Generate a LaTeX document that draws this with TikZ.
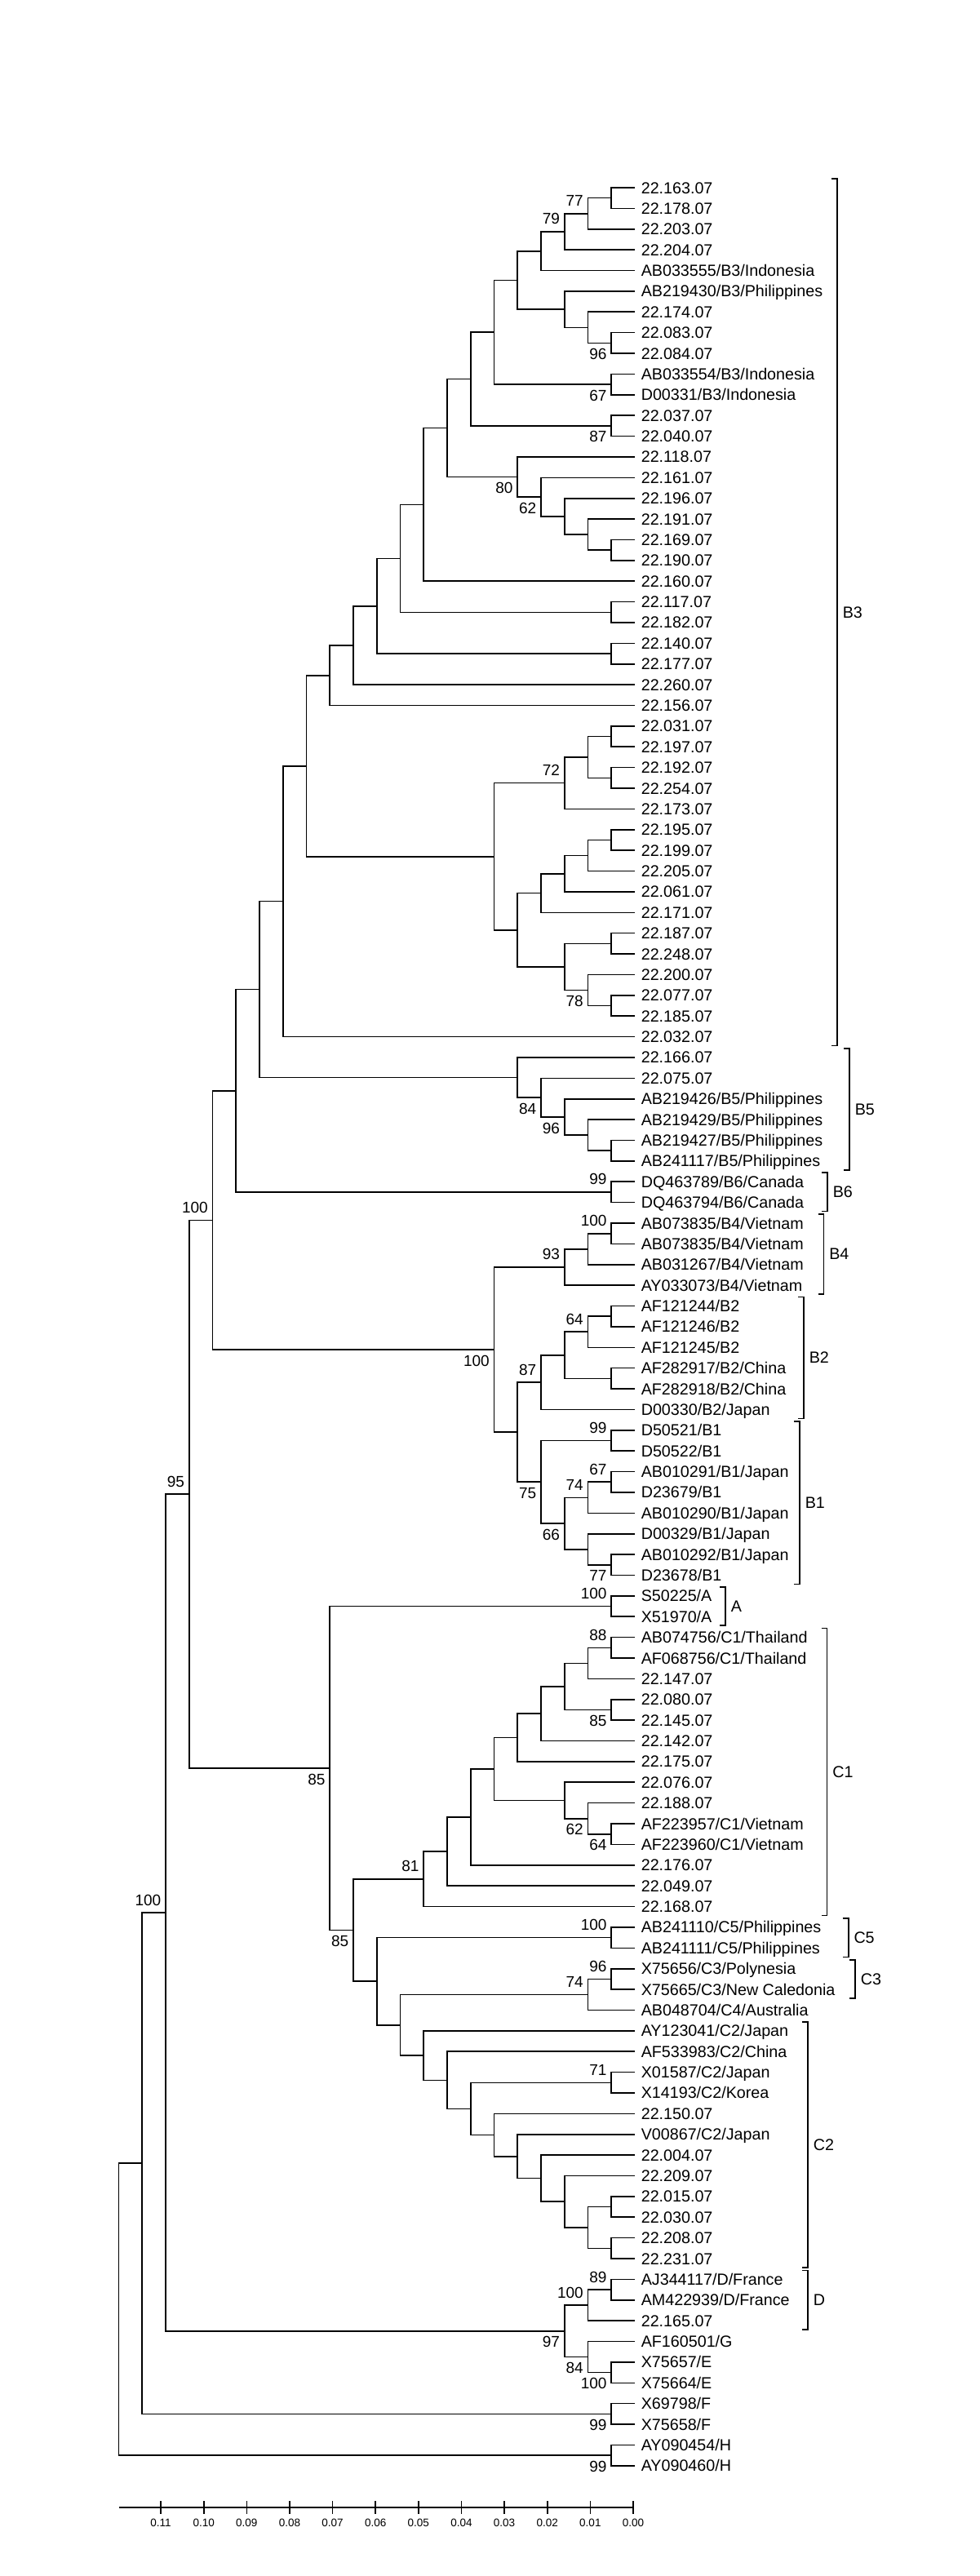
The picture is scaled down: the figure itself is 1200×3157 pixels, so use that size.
\documentclass[tikz,border=0pt]{standalone}
\usepackage{fontspec}
\setmainfont{Liberation Sans}
\usetikzlibrary{calc}

\tikzset{
  leaf/.style={anchor=west, inner xsep=7pt, inner ysep=0pt, text height=14pt, text depth=0pt,
    font=\fontsize{19.7pt}{22pt}\selectfont},
  bsup/.style={anchor=south east, inner sep=0pt, xshift=-5pt, yshift=8pt, font=\fontsize{19pt}{21pt}\selectfont},
  bsdn/.style={anchor=north east, inner sep=0pt, xshift=-5pt, yshift=-6pt, font=\fontsize{19pt}{21pt}\selectfont},
  grplab/.style={anchor=west, inner sep=0pt, xshift=6pt, font=\fontsize{19.7pt}{22pt}\selectfont},
  ticklab/.style={inner sep=0pt, font=\fontsize{13.5pt}{15pt}\selectfont}
}

\newcommand\clade[4]{%
  \path let \p1=(#3), \p2=(#4) in coordinate (#1) at ({778pt-28.75pt*#2}, {0.5*\y1+0.5*\y2});
  \draw (#3) -| (#1) |- (#4);
}
\newcommand\bup[2]{\node[bsup] (b#1) at (#1) {#2};}
\newcommand\bdn[2]{\node[bsdn] (b#1) at (#1) {#2};}
\newcommand\grp[4]{%
  \draw ([xshift=#3pt-7pt,yshift=11pt]l#1.west) -| ([xshift=#3pt,yshift=-11pt]l#2.west) -- ++(-7,0);
  \node[grplab] (gl#4) at ($([xshift=#3pt]l#1.west)!0.5!([xshift=#3pt]l#2.west)$) {#4};
}

\begin{document}
\begin{tikzpicture}[x=1pt, y=-1pt, line width=1.6pt]
  \path[fill=white, use as bounding box] (0,0) rectangle (1200,3157);

  \foreach \lab [count=\i] in {22.163.07, 22.178.07, 22.203.07, 22.204.07, AB033555/B3/Indonesia,
      AB219430/B3/Philippines, 22.174.07, 22.083.07, 22.084.07, AB033554/B3/Indonesia, D00331/B3/Indonesia,
      22.037.07, 22.040.07, 22.118.07, 22.161.07, 22.196.07, 22.191.07, 22.169.07, 22.190.07, 22.160.07,
      22.117.07, 22.182.07, 22.140.07, 22.177.07, 22.260.07, 22.156.07, 22.031.07, 22.197.07, 22.192.07,
      22.254.07, 22.173.07, 22.195.07, 22.199.07, 22.205.07, 22.061.07, 22.171.07, 22.187.07, 22.248.07,
      22.200.07, 22.077.07, 22.185.07, 22.032.07, 22.166.07, 22.075.07, AB219426/B5/Philippines,
      AB219429/B5/Philippines, AB219427/B5/Philippines, AB241117/B5/Philippines, DQ463789/B6/Canada,
      DQ463794/B6/Canada, AB073835/B4/Vietnam, AB073835/B4/Vietnam, AB031267/B4/Vietnam, AY033073/B4/Vietnam,
      AF121244/B2, AF121246/B2, AF121245/B2, AF282917/B2/China, AF282918/B2/China, D00330/B2/Japan,
      D50521/B1, D50522/B1, AB010291/B1/Japan, D23679/B1, AB010290/B1/Japan, D00329/B1/Japan,
      AB010292/B1/Japan, D23678/B1, S50225/A, X51970/A, AB074756/C1/Thailand, AF068756/C1/Thailand,
      22.147.07, 22.080.07, 22.145.07, 22.142.07, 22.175.07, 22.076.07, 22.188.07, AF223957/C1/Vietnam,
      AF223960/C1/Vietnam, 22.176.07, 22.049.07, 22.168.07, AB241110/C5/Philippines, AB241111/C5/Philippines,
      X75656/C3/Polynesia, X75665/C3/New Caledonia, AB048704/C4/Australia, AY123041/C2/Japan,
      AF533983/C2/China, X01587/C2/Japan, X14193/C2/Korea, 22.150.07, V00867/C2/Japan, 22.004.07,
      22.209.07, 22.015.07, 22.030.07, 22.208.07, 22.231.07, AJ344117/D/France, AM422939/D/France,
      22.165.07, AF160501/G, X75657/E, X75664/E, X69798/F, X75658/F, AY090454/H, AY090460/H}
    \node[leaf] (l\i) at (778, {230+(\i-1)*25.38}) {\lab};

  \clade{n1}{1}{l1}{l2}
  \clade{n2}{2}{n1}{l3}
  \clade{n3}{3}{n2}{l4}
  \clade{n4}{4}{n3}{l5}
  \clade{n5a}{1}{l8}{l9}
  \clade{n5b}{2}{l7}{n5a}
  \clade{n5c}{3}{l6}{n5b}
  \clade{n5}{5}{n4}{n5c}
  \clade{n6a}{1}{l10}{l11}
  \clade{n6}{6}{n5}{n6a}
  \clade{n7a}{1}{l12}{l13}
  \clade{n7}{7}{n6}{n7a}
  \clade{m1}{1}{l18}{l19}
  \clade{m2}{2}{l17}{m1}
  \clade{m3}{3}{l16}{m2}
  \clade{m4}{4}{l15}{m3}
  \clade{m5}{5}{l14}{m4}
  \clade{n8}{8}{n7}{m5}
  \clade{n9}{9}{n8}{l20}
  \clade{n10a}{1}{l21}{l22}
  \clade{n10}{10}{n9}{n10a}
  \clade{n11a}{1}{l23}{l24}
  \clade{n11}{11}{n10}{n11a}
  \clade{n12}{12}{n11}{l25}
  \clade{n13}{13}{n12}{l26}
  \clade{q1}{1}{l27}{l28}
  \clade{q2}{1}{l29}{l30}
  \clade{q3}{2}{q1}{q2}
  \clade{q4}{3}{q3}{l31}
  \clade{r1}{1}{l32}{l33}
  \clade{r2}{2}{r1}{l34}
  \clade{r3}{3}{r2}{l35}
  \clade{r4}{4}{r3}{l36}
  \clade{s1}{1}{l37}{l38}
  \clade{s2}{1}{l40}{l41}
  \clade{s3}{2}{l39}{s2}
  \clade{s4}{3}{s1}{s3}
  \clade{r5}{5}{r4}{s4}
  \clade{q5}{6}{q4}{r5}
  \clade{n14}{14}{n13}{q5}
  \clade{n15}{15}{n14}{l42}
  \clade{p1}{1}{l47}{l48}
  \clade{p2}{2}{l46}{p1}
  \clade{p3}{3}{l45}{p2}
  \clade{p4}{4}{l44}{p3}
  \clade{p5}{5}{l43}{p4}
  \clade{n16}{16}{n15}{p5}
  \clade{b6}{1}{l49}{l50}
  \clade{n17}{17}{n16}{b6}
  \clade{f1}{1}{l51}{l52}
  \clade{f2}{2}{f1}{l53}
  \clade{f3}{3}{f2}{l54}
  \clade{g1}{1}{l55}{l56}
  \clade{g2}{2}{g1}{l57}
  \clade{g3a}{1}{l58}{l59}
  \clade{g3}{3}{g2}{g3a}
  \clade{g4}{4}{g3}{l60}
  \clade{h1}{1}{l61}{l62}
  \clade{h2}{1}{l63}{l64}
  \clade{h3}{2}{h2}{l65}
  \clade{h4}{1}{l67}{l68}
  \clade{h5}{2}{l66}{h4}
  \clade{h6}{3}{h3}{h5}
  \clade{h7}{4}{h1}{h6}
  \clade{g5}{5}{g4}{h7}
  \clade{f4}{6}{f3}{g5}
  \clade{n18}{18}{n17}{f4}
  \clade{a1}{1}{l69}{l70}
  \clade{c1a}{1}{l71}{l72}
  \clade{c1b}{2}{c1a}{l73}
  \clade{c1c}{1}{l74}{l75}
  \clade{c1d}{3}{c1b}{c1c}
  \clade{c1e}{4}{c1d}{l76}
  \clade{c1f}{5}{c1e}{l77}
  \clade{c1g}{1}{l80}{l81}
  \clade{c1h}{2}{l79}{c1g}
  \clade{c1i}{3}{l78}{c1h}
  \clade{c1j}{6}{c1f}{c1i}
  \clade{c1k}{7}{c1j}{l82}
  \clade{c1l}{8}{c1k}{l83}
  \clade{c1m}{9}{c1l}{l84}
  \clade{c5}{1}{l85}{l86}
  \clade{c3}{1}{l87}{l88}
  \clade{c34}{2}{c3}{l89}
  \clade{c2a}{1}{l92}{l93}
  \clade{c2b}{1}{l98}{l99}
  \clade{c2c}{1}{l100}{l101}
  \clade{c2d}{2}{c2b}{c2c}
  \clade{c2e}{3}{l97}{c2d}
  \clade{c2f}{4}{l96}{c2e}
  \clade{c2g}{5}{l95}{c2f}
  \clade{c2h}{6}{l94}{c2g}
  \clade{c2i}{7}{c2a}{c2h}
  \clade{c2j}{8}{l91}{c2i}
  \clade{c2k}{9}{l90}{c2j}
  \clade{c10}{10}{c34}{c2k}
  \clade{c11}{11}{c5}{c10}
  \clade{c12}{12}{c1m}{c11}
  \clade{ac}{13}{a1}{c12}
  \clade{n19}{19}{n18}{ac}
  \clade{d1}{1}{l102}{l103}
  \clade{d2}{2}{d1}{l104}
  \clade{e1}{1}{l106}{l107}
  \clade{e2}{2}{l105}{e1}
  \clade{dge}{3}{d2}{e2}
  \clade{n20}{20}{n19}{dge}
  \clade{f0}{1}{l108}{l109}
  \clade{n21}{21}{n20}{f0}
  \clade{h0}{1}{l110}{l111}
  \clade{root}{22}{n21}{h0}

  \bup{n2}{77} \bup{n3}{79} \bup{q4}{72} \bup{b6}{99} \bup{f1}{100} \bup{f3}{93}
  \bup{g2}{64} \bup{g4}{87} \bup{h1}{99} \bup{h2}{67} \bup{h3}{74} \bup{n18}{100}
  \bup{a1}{100} \bup{c1a}{88} \bup{c1m}{81} \bup{c5}{100} \bup{c3}{96} \bup{c34}{74}
  \bup{c2a}{71} \bup{d1}{89} \bup{d2}{100} \bup{n19}{95} \bup{n20}{100}
  \bdn{n5a}{96} \bdn{n6a}{67} \bdn{n7a}{87} \bdn{m5}{80} \bdn{m4}{62} \bdn{s3}{78}
  \bdn{p4}{84} \bdn{p3}{96} \bdn{f4}{100} \bdn{h7}{75} \bdn{h6}{66} \bdn{h4}{77}
  \bdn{c1c}{85} \bdn{c1h}{62} \bdn{c1g}{64} \bdn{c12}{85} \bdn{ac}{85} \bdn{dge}{97}
  \bdn{e2}{84} \bdn{e1}{100} \bdn{f0}{99} \bdn{h0}{99}

  \grp{1}{42}{248}{B3}
  \grp{43}{48}{263}{B5}
  \grp{49}{50}{236}{B6}
  \grp{51}{54}{231.5}{B4}
  \grp{55}{60}{207}{B2}
  \grp{61}{68}{202}{B1}
  \grp{69}{70}{111}{A}
  \grp{71}{84}{235.6}{C1}
  \grp{85}{86}{261.7}{C5}
  \grp{87}{88}{270}{C3}
  \grp{90}{101}{212}{C2}
  \grp{102}{104}{212}{D}

  \coordinate (ax0) at (776,3073);
  \draw (ax0) -- (ax0 -| root);
  \foreach \j in {0,...,11} {
    \draw ({776-52.63*\j},3065) -- ++(0,16);
    \node[ticklab] (t\j) at ({776-52.63*\j},3092) {\ifnum\j<10 0.0\j\else 0.\j\fi};
  }
\end{tikzpicture}
\end{document}
